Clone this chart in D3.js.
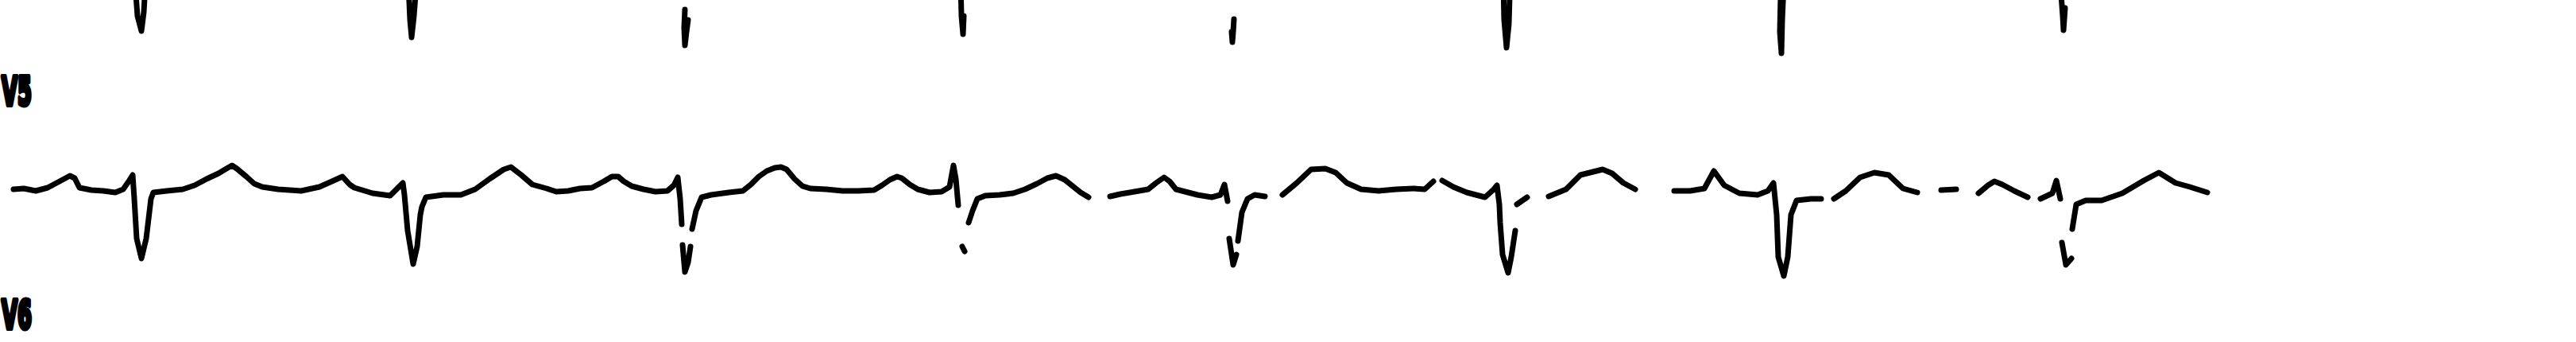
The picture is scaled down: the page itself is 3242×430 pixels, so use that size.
<!DOCTYPE html>
<html>
<head>
<meta charset="utf-8">
<script src="https://cdn.jsdelivr.net/npm/d3@7"></script>
<style>
  html, body { margin: 0; padding: 0; background: #fff; }
  svg { display: block; }
</style>
</head>
<body>
<svg id="chart" width="3242" height="430"></svg>
<script>
// ---- DATA (time in ms, amplitude in mV) ----
const leadLabels = ["V5", "V6"];

// Tail of the previous lead's QRS complexes (its baseline is above the frame)
const prevLeadSpikes = [
  [[340,-0.8],[346,-1.2],[356,-1.39],[362,-1.15],[366,-0.8]],
  [[1028,-0.8],[1032,-1.25],[1036,-1.47],[1042,-1.2],[1048,-0.8]],
  [[1724,-1.12],[1722,-1.35],[1724,-1.57],[1728,-1.4],[1732,-1.25]],
  [[2418,-0.8],[2420,-1.2],[2424,-1.43],[2426,-1.2]],
  [[3106,-1.24],[3104,-1.4],[3102,-1.53],[3100,-1.4]],
  [[3784,-0.8],[3786,-1.25],[3792,-1.6],[3798,-1.3],[3800,-0.95]],
  [[4490,-0.8],[4486,-1.25],[4484,-1.67],[4480,-1.4],[4482,-0.95]],
  [[5186,-0.8],[5192,-1.2],[5194,-1.38],[5198,-1.1]]
];

// Main lead trace, split where the recording shows gaps
const mainSegments = [
  [[34,0],[60,0.01],[90,-0.02],[120,0.02],[150,0.10],[176,0.17],[188,0.14],[200,0.02],
   [230,-0.01],[260,-0.02],[290,-0.04],[310,0],[324,0.10],[334,0.18],[338,-0.12],
   [344,-0.62],[356,-0.87],[368,-0.62],[380,-0.12],[386,-0.04],[420,-0.02],[460,0],
   [490,0.05],[520,0.13],[550,0.20],[570,0.26],[584,0.30],[596,0.26],[620,0.16],
   [640,0.07],[660,0.03],[700,0],[758,-0.02],[804,0.03],[840,0.11],[862,0.16],
   [880,0.06],[892,0.02],[938,-0.05],[982,-0.08],[1004,0.03],[1014,0.08],[1018,-0.07],
   [1026,-0.52],[1036,-0.82],[1040,-0.94],[1050,-0.72],[1058,-0.32],[1062,-0.22],
   [1072,-0.10],[1116,-0.07],[1160,-0.07],[1196,0],[1232,0.13],[1268,0.25],[1286,0.28],
   [1312,0.18],[1340,0.06],[1376,0.01],[1400,-0.03],[1430,-0.02],[1460,0.01],[1490,0.02],
   [1520,0.10],[1540,0.16],[1556,0.16],[1570,0.10],[1590,0.04],[1620,0],[1650,-0.03],
   [1680,-0.02],[1696,0.05],[1706,0.15],[1712,-0.12],[1716,-0.44]],
  [[1718,-0.70],[1724,-1.04],[1732,-0.92],[1738,-0.72]],
  [[1742,-0.50],[1752,-0.27],[1766,-0.10],[1790,-0.07],[1834,-0.04],[1870,-0.02],
   [1890,0.06],[1910,0.16],[1930,0.23],[1950,0.27],[1966,0.28],[1980,0.25],[2000,0.13],
   [2020,0.04],[2040,0.01],[2080,0],[2120,-0.02],[2160,-0.02],[2200,-0.01],[2220,0.05],
   [2240,0.12],[2258,0.16],[2270,0.14],[2290,0.06],[2310,0],[2340,-0.04],[2370,-0.03],
   [2390,0.03],[2400,0.30],[2406,0.13],[2412,-0.20]],
  [[2422,-0.72],[2428,-0.78]],
  [[2438,-0.42],[2448,-0.27],[2460,-0.12],[2480,-0.08],[2516,-0.07],[2550,-0.05],
   [2580,0],[2610,0.07],[2636,0.14],[2658,0.17],[2680,0.12],[2700,0.04],[2720,-0.04],
   [2740,-0.10]],
  [[2794,-0.09],[2820,-0.06],[2844,-0.04],[2890,0],[2910,0.08],[2930,0.15],[2944,0.10],
   [2960,0],[3014,-0.07],[3050,-0.10],[3072,-0.07],[3082,0.06],[3090,-0.15]],
  [[3094,-0.62],[3104,-0.95],[3112,-0.82]],
  [[3116,-0.65],[3126,-0.29],[3140,-0.12],[3158,-0.07],[3184,-0.09]],
  [[3228,-0.07],[3264,0.08],[3300,0.25],[3336,0.26],[3362,0.21],[3390,0.08],[3426,0],
   [3470,-0.02],[3514,0],[3558,0.01],[3586,0],[3608,0.10]],
  [[3630,0.11],[3658,0.03],[3692,-0.04],[3738,-0.10],[3760,0],[3768,0.05],[3774,-0.19],
   [3776,-0.42],[3782,-0.82],[3796,-1.05],[3804,-0.85],[3814,-0.52]],
  [[3818,-0.19],[3844,-0.10]],
  [[3898,-0.09],[3942,0],[3978,0.18],[4034,0.25],[4058,0.20],[4086,0.08],[4116,0]],
  [[4214,-0.02],[4254,-0.02],[4290,0.01],[4314,0.23],[4340,0.05],[4378,-0.05],
   [4424,-0.07],[4450,-0.02],[4464,0.08],[4472,-0.32],[4476,-0.85],[4490,-1.09],
   [4500,-0.85],[4508,-0.32],[4522,-0.14],[4558,-0.12],[4584,-0.12]],
  [[4616,-0.12],[4646,-0.02],[4682,0.15],[4718,0.21],[4754,0.18],[4790,0.01],[4826,-0.04]],
  [[4886,-0.01],[4924,0]],
  [[4980,-0.05],[5004,0.05],[5020,0.10],[5040,0.06],[5070,-0.02],[5104,-0.10]],
  [[5136,-0.12],[5166,-0.05],[5176,0.11],[5186,-0.12]],
  [[5190,-0.67],[5200,-0.95],[5214,-0.87]],
  [[5216,-0.50],[5226,-0.19],[5250,-0.14],[5290,-0.14],[5342,-0.05],[5396,0.11],
   [5434,0.21],[5476,0.08],[5512,0.03],[5556,-0.04]]
];

// ---- CHART ----
const W = 3242, H = 430;
const svg = d3.select("#chart");
svg.append("rect").attr("width", W).attr("height", H).attr("fill", "#fff");

const x = d3.scaleLinear().domain([0, 6484]).range([0, W]);
const yMain = d3.scaleLinear().domain([-2, 2]).range([438, 38]);
const yPrev = d3.scaleLinear().domain([-2, 2]).range([100, -300]);

const lineMain = d3.line().x(d => x(d[0])).y(d => yMain(d[1]));
const linePrev = d3.line().x(d => x(d[0])).y(d => yPrev(d[1]));

svg.append("g").selectAll("path").data(prevLeadSpikes).join("path")
  .attr("d", linePrev)
  .attr("fill", "none").attr("stroke", "#000")
  .attr("stroke-width", 7).attr("stroke-linecap", "round").attr("stroke-linejoin", "round");

svg.append("g").selectAll("path").data(mainSegments).join("path")
  .attr("d", lineMain)
  .attr("fill", "none").attr("stroke", "#000")
  .attr("stroke-width", 7).attr("stroke-linecap", "round").attr("stroke-linejoin", "round");

const labelBaselines = [132, 413];
svg.append("g").selectAll("text").data(leadLabels).join("text")
  .attr("x", 2).attr("y", (d, i) => labelBaselines[i])
  .attr("font-family", "DejaVu Sans").attr("font-weight", "bold")
  .attr("font-size", 50)
  .attr("textLength", 38).attr("lengthAdjust", "spacingAndGlyphs")
  .attr("fill", "#000").attr("stroke", "#000").attr("stroke-width", 6)
  .attr("stroke-linejoin", "round")
  .text(d => d);
</script>
</body>
</html>
